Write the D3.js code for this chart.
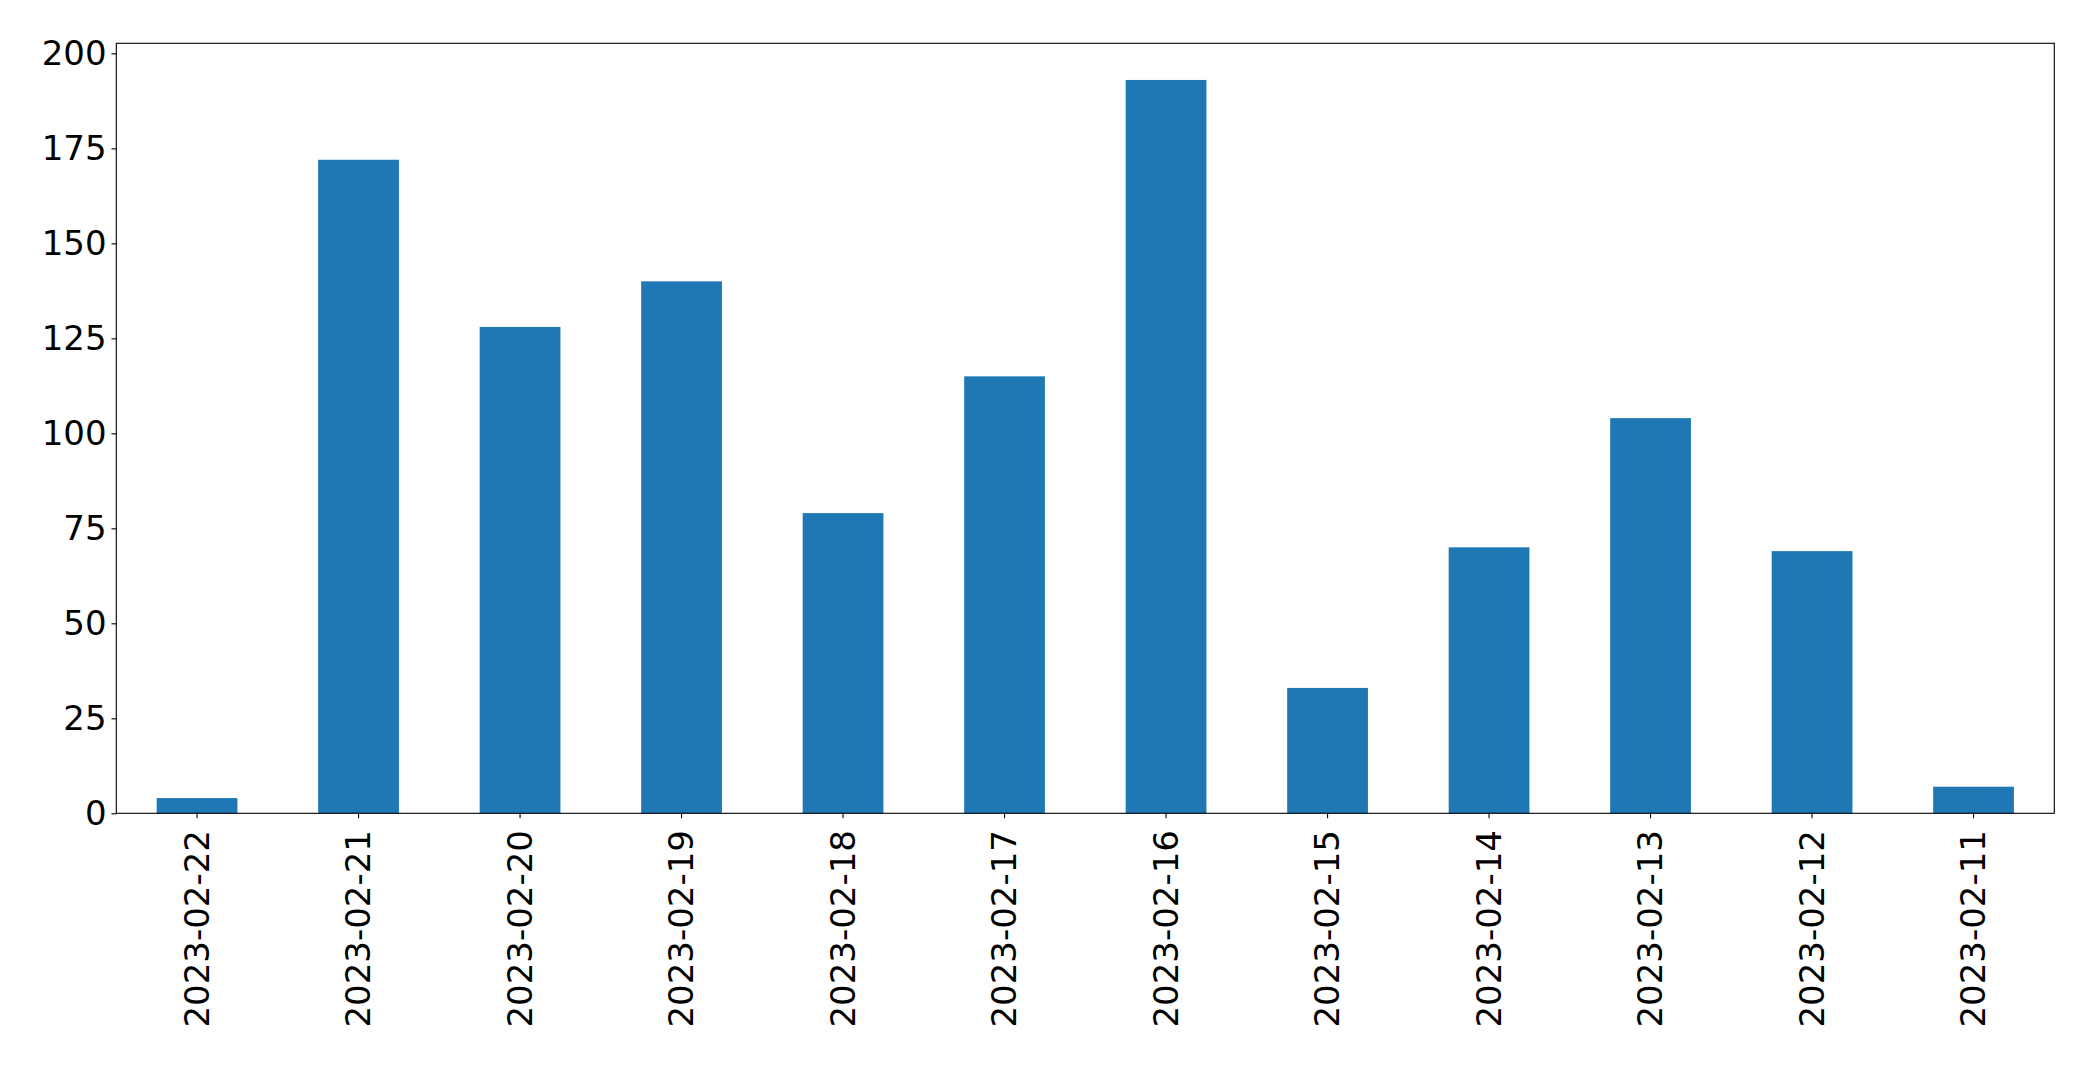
<!DOCTYPE html>
<html>
<head>
<meta charset="utf-8">
<script src="https://cdn.jsdelivr.net/npm/d3@7"></script>
<style>
  html, body { margin: 0; padding: 0; background: #fff; }
  svg { display: block; }
</style>
</head>
<body>
<svg id="chart" width="2093" height="1065"></svg>
<script>
const categories = ["2023-02-22","2023-02-21","2023-02-20","2023-02-19","2023-02-18","2023-02-17","2023-02-16","2023-02-15","2023-02-14","2023-02-13","2023-02-12","2023-02-11"];
const values = [4, 172, 128, 140, 79, 115, 193, 33, 70, 104, 69, 7];
const yTicks = [0, 25, 50, 75, 100, 125, 150, 175, 200];

const W = 2093, H = 1065;
const margin = { left: 116.3, right: W - 2054.3, top: 43.3, bottom: H - 813.3 };
const svg = d3.select("#chart");
const fontSize = 34;
const tickLen = 4.86, tickPad = 4.86;

const x = d3.scaleBand()
  .domain(categories)
  .range([margin.left, W - margin.right])
  .paddingInner(0.5)
  .paddingOuter(0.25);

const yMax = d3.max(values) * 1.05;
const y = d3.scaleLinear()
  .domain([0, yMax])
  .range([H - margin.bottom, margin.top]);

// bars
svg.append("g")
  .selectAll("rect")
  .data(values)
  .join("rect")
  .attr("x", (d, i) => x(categories[i]))
  .attr("width", x.bandwidth())
  .attr("y", d => y(d))
  .attr("height", d => y(0) - y(d))
  .attr("fill", "#1f77b4");

// y axis
const yAxis = svg.append("g")
  .attr("transform", `translate(${margin.left},0)`)
  .call(d3.axisLeft(y).tickValues(yTicks).tickSize(tickLen).tickPadding(tickPad).tickFormat(d3.format("d")));
yAxis.select(".domain").remove();
yAxis.selectAll(".tick line").attr("stroke", "#000").attr("stroke-width", 1.1);
yAxis.selectAll(".tick text")
  .attr("font-family", "DejaVu Sans")
  .attr("font-size", fontSize)
  .attr("fill", "#000");

// x axis
const xAxis = svg.append("g")
  .attr("transform", `translate(0,${H - margin.bottom})`)
  .call(d3.axisBottom(x).tickSize(tickLen).tickPadding(tickPad));
xAxis.select(".domain").remove();
xAxis.selectAll(".tick line").attr("stroke", "#000").attr("stroke-width", 1.1);
xAxis.selectAll(".tick text")
  .attr("font-family", "DejaVu Sans")
  .attr("font-size", fontSize)
  .attr("fill", "#000")
  .attr("text-anchor", "end")
  .attr("x", 0)
  .attr("y", 0)
  .attr("dy", "0.35em")
  .attr("transform", `translate(0,${tickLen + tickPad + 7}) rotate(-90)`);

// frame
svg.append("rect")
  .attr("x", margin.left)
  .attr("y", margin.top)
  .attr("width", W - margin.left - margin.right)
  .attr("height", H - margin.top - margin.bottom)
  .attr("fill", "none")
  .attr("stroke", "#000")
  .attr("stroke-width", 1.1);
</script>
</body>
</html>
